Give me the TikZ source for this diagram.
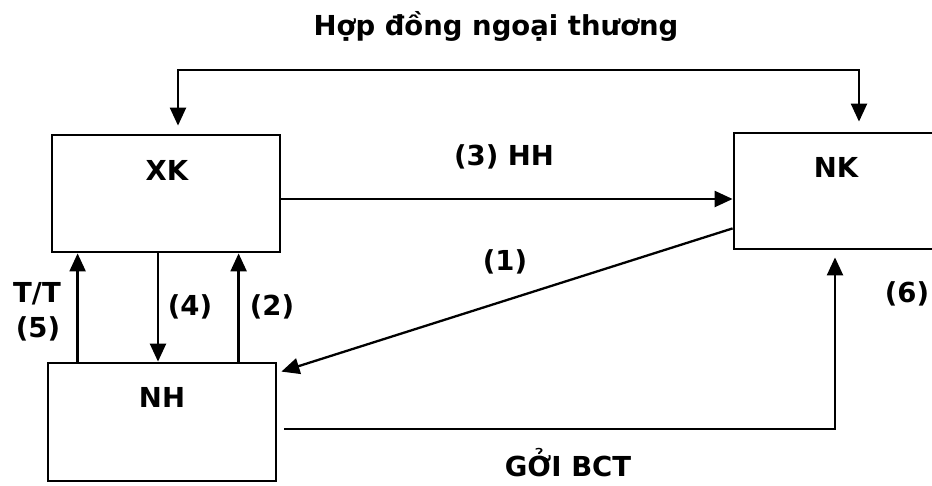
\documentclass[tikz,border=0pt]{standalone}
\usepackage{fontspec}
\setmainfont{DejaVu Sans}
\usetikzlibrary{arrows.meta}
\begin{document}
\begin{tikzpicture}[x=1pt,y=-1pt,
  box/.style={draw, line width=2.8pt, inner sep=0pt},
  lbl/.style={font=\fontsize{27.5}{30}\selectfont\bfseries, anchor=base, inner sep=0pt},
  head/.style={Triangle[length=18pt,width=16pt]},
  conn/.style={line width=2.3pt, -{Triangle[length=18pt,width=16pt]}},
  ]
\useasboundingbox (0,0) rectangle (932,485);
\clip (0,0) rectangle (932,485);
\fill[white] (0,0) rectangle (932,485);

% parties
\node[box, minimum width=228pt, minimum height=117pt] (xk) at (166,193.5) {};
\node[box, minimum width=228pt, minimum height=116pt] (nk) at (848,191) {};
\node[box, minimum width=228pt, minimum height=118pt] (nh) at (162,422) {};

\node[lbl] (xkt) at (167,180) {XK};
\node[lbl] (nkt) at (836,177) {NK};
\node[lbl] (nht) at (162,407) {NH};

% contract between exporter and importer
\coordinate (top) at (500,70);
\draw[line width=2.3pt, {Triangle[length=18pt,width=16pt]}-{Triangle[length=18pt,width=16pt]},
      shorten <=8pt, shorten >=10pt]
  ([xshift=12pt]xk.north) |- (top) -| ([xshift=11pt]nk.north);
\node[lbl] (title) at (496,35) {Hợp đồng ngoại thương};

% (3) goods
\draw[conn] ([yshift=-5.5pt]xk.east) -- ([yshift=-5.5pt]xk.east -| nk.west);
\node[lbl] (hh) at (504,165) {(3) HH};

% (1) importer to bank
\draw[conn] ([yshift=22pt]nk.south west) -- ([shift={(4pt,-10pt)}]nh.north east);
\node[lbl] (l1) at (505,270) {(1)};

% exporter <-> bank
\draw[conn] ([xshift=31pt]nh.north west) -- ([xshift=31pt]nh.north west |- xk.south);
\draw[conn] ([xshift=-8pt]xk.south) -- ([xshift=-8pt]xk.south |- nh.north);
\draw[conn] ([xshift=192pt]nh.north west) -- ([xshift=192pt]nh.north west |- xk.south);
\node[lbl] (tt) at (37,302) {T/T};
\node[lbl] (l5) at (38,337) {(5)};
\node[lbl] (l4) at (190,315) {(4)};
\node[lbl] (l2) at (272,315) {(2)};

% documents sent to importer
\draw[conn] ([shift={(7pt,-7pt)}]nh.east) -| ([shift={(-13pt,-7pt)}]nk.south);
\node[lbl] (bct) at (568,476) {GỞI BCT};
\node[lbl] (l6) at (907,302) {(6)};
\end{tikzpicture}
\end{document}
